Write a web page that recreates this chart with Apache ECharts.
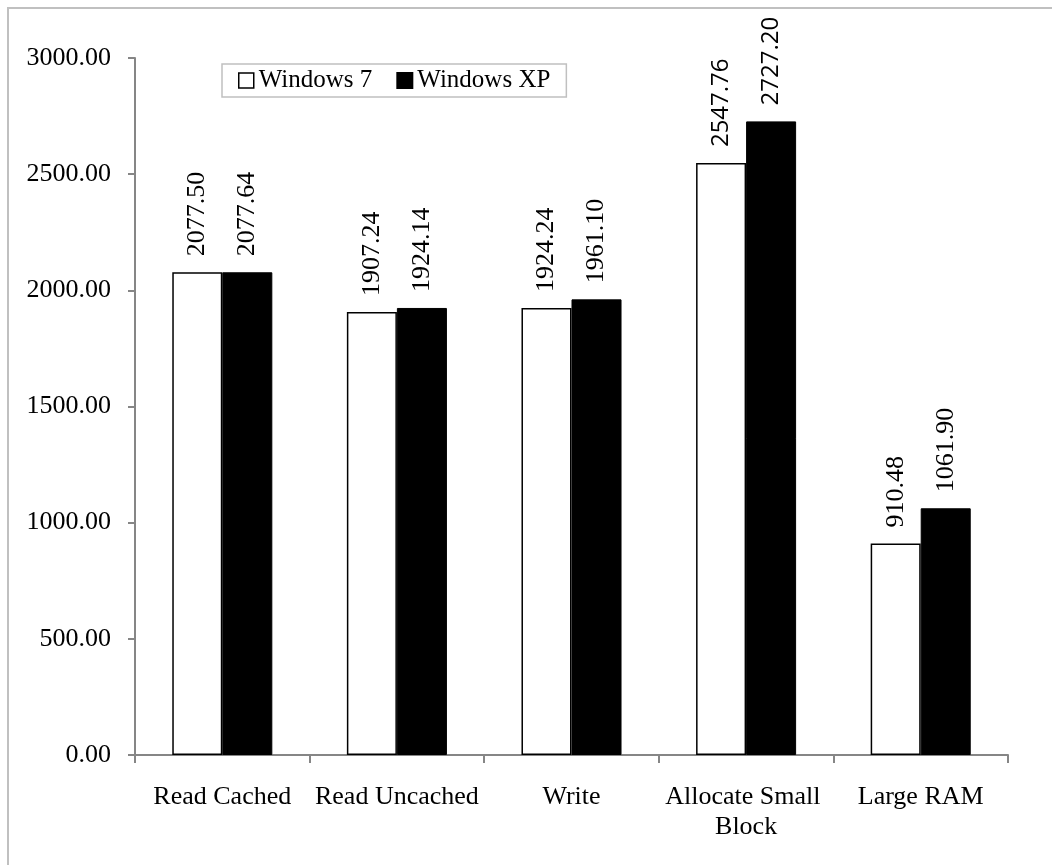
<!DOCTYPE html>
<html>
<head>
<meta charset="utf-8">
<script src="https://cdn.jsdelivr.net/npm/echarts@6/dist/echarts.min.js"></script>
<style>
html,body{margin:0;padding:0;background:#fff;}
#c{width:1052px;height:865px;}
</style>
</head>
<body>
<div id="c"></div>
<script>
const categories = ['Read Cached', 'Read Uncached', 'Write', 'Allocate Small Block', 'Large RAM'];
const seriesNames = ['Windows 7', 'Windows XP'];
const win7 = [2077.50, 1907.24, 1924.24, 2547.76, 910.48];
const winXP = [2077.64, 1924.14, 1961.10, 2727.20, 1061.90];
const yTicks = [0, 500, 1000, 1500, 2000, 2500, 3000];

const serif = '"Liberation Serif", "Times New Roman", serif';
const sans = '"Open Sans", "Liberation Sans", sans-serif';

function labelled(values) {
  return values.map((v, i) => {
    const item = { value: v };
    if (categories[i] === 'Allocate Small Block') {
      item.label = { fontFamily: sans, fontSize: 24 };
    }
    return item;
  });
}

const chart = echarts.init(document.getElementById('c'), null, { renderer: 'canvas' });
const baseLabel = {
  show: true,
  position: 'top',
  rotate: 90,
  align: 'left',
  verticalAlign: 'middle',
  distance: 16,
  fontFamily: serif,
  fontSize: 26,
  color: '#000',
  formatter: p => p.value.toFixed(2)
};

chart.setOption({
  animation: false,
  backgroundColor: '#fff',
  graphic: [{
    type: 'rect',
    shape: { x: 8, y: 8, width: 1200, height: 1000 },
    style: { fill: 'none', stroke: '#c0c0c0', lineWidth: 2 },
    z: -10
  }],
  legend: {
    left: 222,
    top: 64,
    orient: 'horizontal',
    padding: [4, 16, 4, 16],
    itemGap: 24,
    itemWidth: 15,
    itemHeight: 15,
    borderColor: '#c0c0c0',
    borderWidth: 1.5,
    textStyle: { fontFamily: serif, fontSize: 25, color: '#000' },
    data: [
      { name: seriesNames[0], icon: 'rect', itemStyle: { color: '#fff', borderColor: '#000', borderWidth: 1.5 } },
      { name: seriesNames[1], icon: 'rect', itemStyle: { color: '#000' } }
    ]
  },
  grid: { left: 135, right: 44, top: 58, bottom: 110, containLabel: false },
  xAxis: {
    type: 'category',
    data: categories,
    axisLine: { lineStyle: { color: '#868686', width: 2 } },
    axisTick: { show: true, length: 8, lineStyle: { color: '#868686', width: 2 } },
    axisLabel: {
      margin: 27,
      fontFamily: serif,
      fontSize: 26,
      color: '#000',
      lineHeight: 30,
      width: 172,
      overflow: 'break',
      interval: 0
    }
  },
  yAxis: {
    type: 'value',
    min: yTicks[0],
    max: yTicks[yTicks.length - 1],
    interval: 500,
    splitLine: { show: false },
    axisLine: { show: true, lineStyle: { color: '#868686', width: 2 } },
    axisTick: { show: true, length: 7, lineStyle: { color: '#868686', width: 2 } },
    axisLabel: {
      margin: 24,
      fontFamily: serif,
      fontSize: 26,
      color: '#000',
      formatter: v => v.toFixed(2)
    }
  },
  series: [
    {
      name: seriesNames[0],
      type: 'bar',
      data: labelled(win7),
      barGap: '0%',
      barCategoryGap: '42.7%',
      itemStyle: { color: '#fff', borderColor: '#000', borderWidth: 1.5 },
      label: baseLabel
    },
    {
      name: seriesNames[1],
      type: 'bar',
      data: labelled(winXP),
      barGap: '0%',
      barCategoryGap: '42.7%',
      itemStyle: { color: '#000', borderColor: '#000', borderWidth: 1 },
      label: baseLabel
    }
  ]
});
</script>
</body>
</html>
